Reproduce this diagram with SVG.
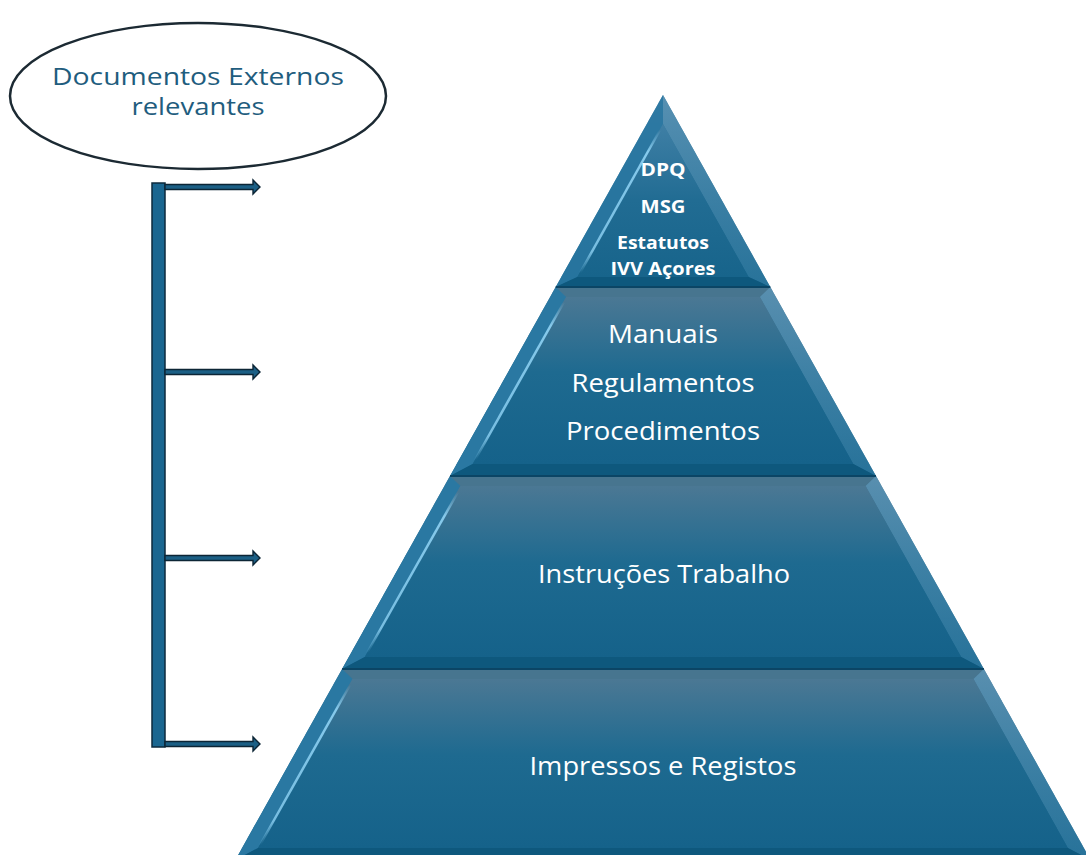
<svg xmlns="http://www.w3.org/2000/svg" width="1086" height="855" viewBox="0 0 1086 855">
  <defs>
    <linearGradient id="face" x1="0" y1="0" x2="0" y2="1">
      <stop offset="0" stop-color="#4b7894"/>
      <stop offset="0.45" stop-color="#1e6a90"/>
      <stop offset="1" stop-color="#15628a"/>
    </linearGradient>
    <linearGradient id="faceTop" x1="0" y1="0" x2="0" y2="1">
      <stop offset="0" stop-color="#3f7fa5"/>
      <stop offset="0.5" stop-color="#216c93"/>
      <stop offset="1" stop-color="#17648b"/>
    </linearGradient>
    <linearGradient id="hiL" x1="0" y1="0" x2="0" y2="1">
      <stop offset="0" stop-color="#8fd3f5" stop-opacity="0"/>
      <stop offset="0.15" stop-color="#8fd3f5" stop-opacity="0.9"/>
      <stop offset="0.85" stop-color="#8fd3f5" stop-opacity="0.8"/>
      <stop offset="1" stop-color="#8fd3f5" stop-opacity="0"/>
    </linearGradient>
    <linearGradient id="hiR" x1="0" y1="0" x2="0" y2="1">
      <stop offset="0" stop-color="#5b93b4" stop-opacity="0.85"/>
      <stop offset="1" stop-color="#2f79a0" stop-opacity="0.7"/>
    </linearGradient>
  </defs>
  <style>
    .bevL { fill: #2a78a2; }
    .bevR { fill: url(#hiR); }
    .bevB { fill: #0e587d; }
    .bevT { fill: #47758f; }
    .hl { fill: none; stroke: url(#hiL); stroke-width: 2.5; }
    .sep { stroke: #0b4565; stroke-width: 2; }
    .lvl { font-family: "Open Sans", "Liberation Sans", sans-serif; fill: #ffffff; text-anchor: middle; }
    .top { font-family: "Open Sans", "Liberation Sans", sans-serif; font-weight: bold; fill: #ffffff; text-anchor: middle; font-size: 18px; }
    .ell { font-family: "Open Sans", "Liberation Sans", sans-serif; fill: #1f5d7e; text-anchor: middle; font-size: 24px; }
    .bar { fill: #1a6690; stroke: #0c2a3c; stroke-width: 1.5; }
    .arr { fill: #1b5f85; stroke: #0c2535; stroke-width: 1.4; }
  </style>

  <g id="external-docs">
    <ellipse cx="198" cy="96" rx="188" ry="73" fill="#ffffff" stroke="#1c2a33" stroke-width="2.5"/>
    <text class="ell" x="198" y="85" textLength="292" lengthAdjust="spacingAndGlyphs">Documentos  Externos</text>
    <text class="ell" x="198" y="115" textLength="133" lengthAdjust="spacingAndGlyphs">relevantes</text>
  </g>

  <g id="connectors">
    <rect class="bar" x="152" y="183" width="13" height="564"/>
    <path class="arr" d="M165 184.5 H253 V180 L260 187 L253 194 V189.5 H165 Z"/>
    <path class="arr" d="M165 369.5 H253 V365 L260 372 L253 379 V374.5 H165 Z"/>
    <path class="arr" d="M165 555.5 H253 V551 L260 558 L253 565 V560.5 H165 Z"/>
    <path class="arr" d="M165 741.5 H253 V737 L260 744 L253 751 V746.5 H165 Z"/>
  </g>

  <g id="level-1">
    <polygon points="663,95 770.3,287 555.7,287" fill="url(#faceTop)"/>
    <polygon class="bevL" points="663,95 663,124 577.3,277 555.7,287" opacity="0.8"/>
    <polygon class="bevR" points="663,95 770.3,287 748.7,277 663,124"/>
    <polygon class="bevB" points="555.7,287 577.3,277 748.7,277 770.3,287"/>
    <polygon points="663,124 748.7,277 577.3,277" fill="url(#faceTop)"/>
    <line class="hl" x1="660" y1="130" x2="580" y2="273"/>
    <text class="top" x="663" y="176" textLength="45" lengthAdjust="spacingAndGlyphs">DPQ</text>
    <text class="top" x="663" y="213" textLength="45" lengthAdjust="spacingAndGlyphs">MSG</text>
    <text class="top" x="663" y="249" textLength="92" lengthAdjust="spacingAndGlyphs">Estatutos</text>
    <text class="top" x="663" y="275" textLength="105" lengthAdjust="spacingAndGlyphs">IVV Açores</text>
  </g>

  <g id="level-2">
    <polygon points="555.7,287 770.3,287 876,476 450,476" fill="url(#face)"/>
    <polygon class="bevT" points="555.7,287 770.3,287 759.9,297 566.1,297"/>
    <polygon class="bevL" points="555.7,287 566.1,297 472.7,464 450,476"/>
    <polygon class="bevR" points="770.3,287 876,476 853.3,464 759.9,297"/>
    <polygon class="bevB" points="450,476 472.7,464 853.3,464 876,476"/>
    <polygon points="566.1,297 759.9,297 853.3,464 472.7,464" fill="url(#face)"/>
    <line class="hl" x1="564" y1="302" x2="475" y2="460"/>
    <line class="sep" x1="555.7" y1="287" x2="770.3" y2="287"/>
    <text class="lvl" x="663" y="343" font-size="25" textLength="110" lengthAdjust="spacingAndGlyphs">Manuais</text>
    <text class="lvl" x="663" y="392" font-size="25" textLength="183" lengthAdjust="spacingAndGlyphs">Regulamentos</text>
    <text class="lvl" x="663" y="440" font-size="25" textLength="194" lengthAdjust="spacingAndGlyphs">Procedimentos</text>
  </g>

  <g id="level-3">
    <polygon points="450,476 876,476 983.9,669 342.1,669" fill="url(#face)"/>
    <polygon class="bevT" points="450,476 876,476 865.6,486 460.4,486"/>
    <polygon class="bevL" points="450,476 460.4,486 364.8,657 342.1,669"/>
    <polygon class="bevR" points="876,476 983.9,669 961.2,657 865.6,486"/>
    <polygon class="bevB" points="342.1,669 364.8,657 961.2,657 983.9,669"/>
    <polygon points="460.4,486 865.6,486 961.2,657 364.8,657" fill="url(#face)"/>
    <line class="hl" x1="458" y1="492" x2="367" y2="653"/>
    <line class="sep" x1="450" y1="476" x2="876" y2="476"/>
    <text class="lvl" x="664" y="583" font-size="25" textLength="252" lengthAdjust="spacingAndGlyphs">Instruções Trabalho</text>
  </g>

  <g id="level-4">
    <polygon points="342.1,669 983.9,669 1090.6,860 235.4,860" fill="url(#face)"/>
    <polygon class="bevT" points="342.1,669 983.9,669 973.5,679 352.5,679"/>
    <polygon class="bevL" points="342.1,669 352.5,679 258.1,848 235.4,860"/>
    <polygon class="bevR" points="983.9,669 1090.6,860 1067.9,848 973.5,679"/>
    <polygon class="bevB" points="235.4,860 258.1,848 1067.9,848 1090.6,860"/>
    <polygon points="352.5,679 973.5,679 1067.9,848 258.1,848" fill="url(#face)"/>
    <line class="hl" x1="350" y1="685" x2="260" y2="845"/>
    <line class="sep" x1="342.1" y1="669" x2="983.9" y2="669"/>
    <text class="lvl" x="663" y="775" font-size="25" textLength="267" lengthAdjust="spacingAndGlyphs">Impressos e Registos</text>
  </g>
</svg>
